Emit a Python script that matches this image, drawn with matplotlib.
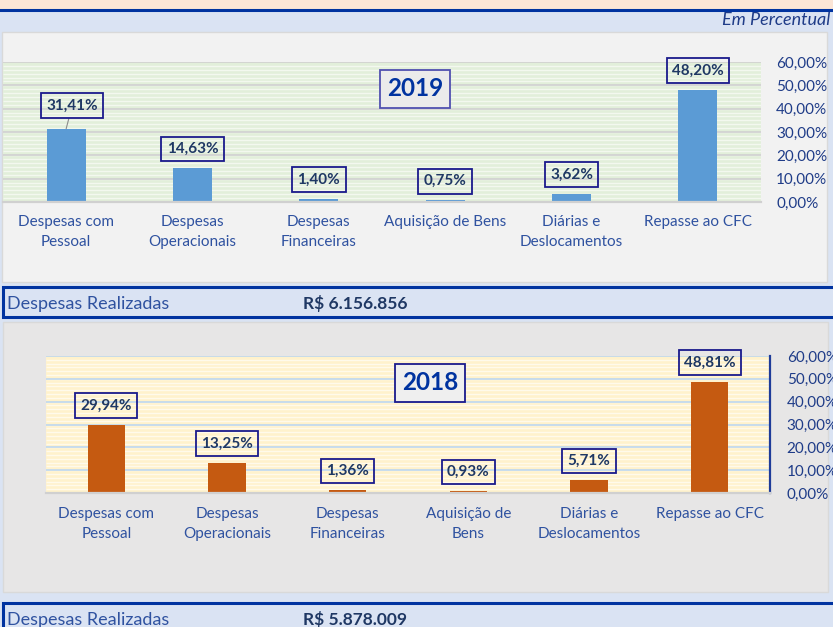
import numpy as np
import matplotlib
matplotlib.use("Agg")
import matplotlib.pyplot as plt
from matplotlib.patches import Rectangle

plt.rcParams['font.family'] = ['Lato', 'DejaVu Sans']

# Dados
categorias_2019 = ["Despesas com\nPessoal", "Despesas\nOperacionais", "Despesas\nFinanceiras",
                   "Aquisição de Bens", "Diárias e\nDeslocamentos", "Repasse ao CFC"]
categorias_2018 = ["Despesas com\nPessoal", "Despesas\nOperacionais", "Despesas\nFinanceiras",
                   "Aquisição de\nBens", "Diárias e\nDeslocamentos", "Repasse ao CFC"]
valores_2019 = [31.41, 14.63, 1.40, 0.75, 3.62, 48.20]
valores_2018 = [29.94, 13.25, 1.36, 0.93, 5.71, 48.81]
total_2019 = "R$ 6.156.856"
total_2018 = "R$ 5.878.009"
ticks_y = [0, 10, 20, 30, 40, 50, 60]

W, H = 833, 627
AZUL = '#0033a0'
TXT = '#2f52a0'
NAVY = '#1f3864'

fig = plt.figure(figsize=(W / 100, H / 100), dpi=100)
fig.patch.set_facecolor('#dae3f3')


def rect(x, y, w, h, **kw):
    fig.add_artist(Rectangle((x / W, 1 - (y + h) / H), w / W, h / H,
                             transform=fig.transFigure, zorder=-1, **kw))


def pos(x, y, w, h):
    return [x / W, 1 - (y + h) / H, w / W, h / H]


# faixa do topo
rect(-5, -5, W + 10, 15, facecolor='#fbe5d6', edgecolor=AZUL, linewidth=2.2)
fig.text(830 / W, 1 - 20 / H, "Em Percentual", ha='right', va='center',
         fontsize=13, style='italic', color='#1f3c88')

# paineis
rect(2, 32, 825, 250, facecolor='#f2f2f2', edgecolor='#d9d9d9', linewidth=1)
rect(3, 322, 825, 270, facecolor='#e7e6e6', edgecolor='#d9d9d9', linewidth=1)

# faixas de despesas realizadas
for ytop, total in [(287, total_2019), (603, total_2018)]:
    rect(3, ytop, W + 10, 30, facecolor='#dae3f3', edgecolor=AZUL, linewidth=2.2)
    fig.text(7 / W, 1 - (ytop + 17) / H, "Despesas Realizadas", ha='left', va='center',
             fontsize=13, color=TXT)
    fig.text(303 / W, 1 - (ytop + 17) / H, total, ha='left', va='center',
             fontsize=12.5, fontweight='bold', color=NAVY)


def fmt(v):
    return f"{v:.2f}%".replace('.', ',')


def desenha(ax, valores, categorias, cor_barra, fundo, listra, grade, ano, pad_x, largura):
    ax.set_facecolor(fundo)
    x = np.arange(len(valores))
    ax.set_xlim(-0.5, len(valores) - 0.5)
    ax.set_ylim(0, 60)
    # listras do fundo
    ax.hlines(np.arange(10 / 6, 60, 10 / 6), -0.5, len(valores) - 0.5,
              color=listra, linewidth=1, zorder=0)
    ax.hlines(ticks_y[1:], -0.5, len(valores) - 0.5, color=grade, linewidth=1.2, zorder=0.5)
    ax.bar(x, valores, width=largura, color=cor_barra, zorder=2)
    for i, v in enumerate(valores):
        dx, dy = (0, 19)
        extra = {}
        if ano == '2019' and i == 0:
            dx, dy = (6, 23)
            extra = dict(arrowprops=dict(arrowstyle='-', color='#8c8c8c', lw=0.8,
                                         shrinkA=0, shrinkB=0))
        ax.annotate(fmt(v), xy=(i, v), xytext=(dx, dy), textcoords='offset pixels',
                    ha='center', va='center', fontsize=11, fontweight='bold', color=NAVY,
                    bbox=dict(boxstyle='square,pad=0.35', facecolor='none',
                              edgecolor='#1a1a8c', linewidth=1.3), zorder=3, **extra)
    ax.set_xticks(x)
    ax.set_xticklabels(categorias, fontsize=11, color=TXT, linespacing=1.55)
    ax.tick_params(axis='x', length=0, pad=pad_x)
    ax.yaxis.tick_right()
    ax.set_yticks(ticks_y)
    ax.set_yticklabels([fmt(t) for t in ticks_y], fontsize=11, color='#1f3c88')
    ax.tick_params(axis='y', length=0, pad=11)
    for s in ['top', 'left', 'right']:
        ax.spines[s].set_visible(False)
    ax.spines['bottom'].set_color('#d0d0d0')
    ax.spines['bottom'].set_linewidth(1.6)


ax1 = fig.add_axes(pos(3, 62, 758, 140))
desenha(ax1, valores_2019, categorias_2019, '#5b9bd5', '#e2efda', '#f3f8ef', '#d0d0d0',
        '2019', 9, 0.31)
ax1.text(415 / W, 1 - 89 / H, "2019", transform=fig.transFigure, ha='center', va='center',
         fontsize=17.5, fontweight='bold', color='#0033a0',
         bbox=dict(boxstyle='square,pad=0.3', facecolor='#ebebeb', edgecolor='#5050b0',
                   linewidth=1.3))

ax2 = fig.add_axes(pos(46, 356, 724, 137))
desenha(ax2, valores_2018, categorias_2018, '#c55a11', '#fff2cc', '#fffaeb', '#bdd7ee',
        '2018', 10, 0.31)
ax2.spines['right'].set_visible(True)
ax2.spines['right'].set_color('#1f3c99')
ax2.spines['right'].set_linewidth(1.6)
ax2.tick_params(axis='y', pad=12)
ax2.text(430 / W, 1 - 383 / H, "2018", transform=fig.transFigure, ha='center', va='center',
         fontsize=17.5, fontweight='bold', color='#0033a0',
         bbox=dict(boxstyle='square,pad=0.3', facecolor='#efefef', edgecolor='#1a1a8c',
                   linewidth=1.3))

plt.savefig("out.png", dpi=100)
